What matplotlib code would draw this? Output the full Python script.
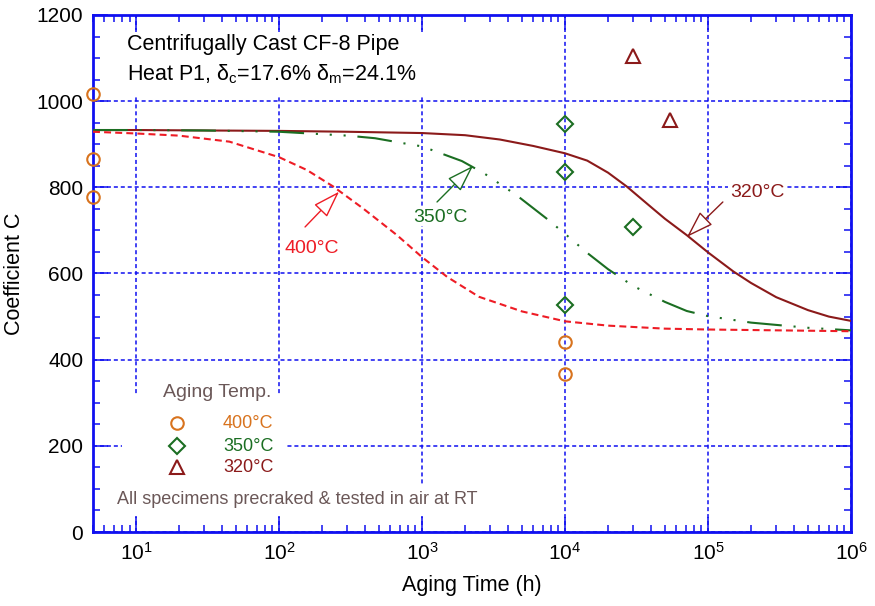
import matplotlib
matplotlib.use('Agg')
import matplotlib.pyplot as plt
from matplotlib.ticker import MultipleLocator, LogLocator, NullFormatter
from matplotlib.patches import Rectangle

plt.rcParams['font.family'] = ['Liberation Sans', 'DejaVu Sans']
plt.rcParams['mathtext.fontset'] = 'custom'
plt.rcParams['mathtext.rm'] = 'Liberation Sans'
plt.rcParams['mathtext.it'] = 'Liberation Sans:italic'
plt.rcParams['lines.scale_dashes'] = False

# ---------------- data ----------------
t_320 = [5, 10, 30, 100, 300, 1e3, 2e3, 3.5e3, 6e3, 1e4, 1.43e4, 2e4, 2.7e4,
         4.1e4, 5e4, 7.1e4, 1e5, 1.5e5, 2e5, 3e5, 5e5, 7e5, 1e6]
C_320 = [933, 933, 932, 931, 929, 926, 921, 911, 896, 879, 862, 834, 802,
         751, 727, 689, 649, 605, 578, 545, 515, 500, 490]

t_350 = [5, 10, 30, 100, 300, 469, 781, 1e3, 1.9e3, 2.73e3, 4.57e3, 7.4e3,
         1e4, 1.44e4, 2e4, 3e4, 5e4, 7.1e4, 1e5, 2e5, 5e5, 1e6]
C_350 = [933, 933, 932, 929, 920, 914, 901, 895, 861, 832, 782, 728,
         692, 647, 610, 571, 534, 513, 501, 486, 474, 468]

t_400 = [5, 10, 20, 45, 100, 157, 239, 387, 668, 1e3, 1.5e3, 2.5e3, 5e3,
         1e4, 2e4, 5e4, 1e5, 1e6]
C_400 = [929, 925, 920, 906, 870, 840, 802, 751, 689, 638, 592, 546, 512,
         489, 479, 472, 470, 466]

pts400_t = [5, 5, 5, 1e4, 1e4]
pts400_C = [1016, 866, 778, 442, 367]
pts350_t = [1e4, 1e4, 3e4, 1e4]
pts350_C = [946, 836, 708, 526]
pts320_t = [3e4, 5.4e4]
pts320_C = [1104, 957]

legend_labels = ['400°C', '350°C', '320°C']

# ---------------- style ----------------
BLUE = '#1010F0'
ORANGE = '#D8731E'
GREEN = '#1B6E22'
DARKRED = '#8B1A1A'
RED = '#EE1C25'
GRAY = '#6B5858'

fig = plt.figure(figsize=(8.75, 6.06), dpi=100)
ax = fig.add_axes([0.10629, 0.12211, 0.86629, 0.85314])
ax.set_xscale('log')
ax.set_xlim(5, 1e6)
ax.set_ylim(0, 1200)

ax.set_axisbelow(True)
ax.grid(True, which='major', color=BLUE, linestyle=(0, (2.9, 2.1)), linewidth=1.1)
ax.grid(False, which='minor')

ax.yaxis.set_major_locator(MultipleLocator(200))
ax.yaxis.set_minor_locator(MultipleLocator(50))
ax.xaxis.set_major_locator(LogLocator(base=10, numticks=20))
ax.xaxis.set_minor_locator(LogLocator(base=10, subs=range(2, 10), numticks=20))
ax.xaxis.set_minor_formatter(NullFormatter())

ax.tick_params(which='both', direction='in', top=True, right=True,
               color=BLUE, width=1.1, labelsize=15, labelcolor='black')
ax.tick_params(which='major', length=10.5, pad=7)
ax.tick_params(which='minor', length=5)
for s in ax.spines.values():
    s.set_color(BLUE)
    s.set_linewidth(2.0)

ax.set_xlabel('Aging Time (h)', fontsize=15.5, labelpad=8)
ax.set_ylabel('Coefficient C', fontsize=15.5, labelpad=8)

# white areas behind the text blocks (grid is interrupted there)
for (x0, y0, w, h) in [(0.0224, 0.842, 0.47, 0.125),
                       (0.0383, 0.087, 0.2177, 0.176),
                       (0.0224, 0.031, 0.495, 0.060)]:
    ax.add_patch(Rectangle((x0, y0), w, h, transform=ax.transAxes,
                           facecolor='white', edgecolor='none', zorder=1))

# curves
ax.plot(t_320, C_320, color=DARKRED, lw=1.5, zorder=3)
ax.plot(t_350, C_350, color=GREEN, lw=1.5, zorder=3,
        linestyle=(0, (25, 8.5, 1.5, 8.5, 1.5, 8.5, 1.5, 8.5)))
ax.plot(t_400, C_400, color=RED, lw=1.5, zorder=3, linestyle=(0, (5, 3)))

# data points
mk = dict(mew=1.5, mfc='none', linestyle='none', zorder=4, clip_on=False)
ax.plot(pts400_t, pts400_C, marker='o', mec=ORANGE, ms=9, **mk)
ax.plot(pts350_t, pts350_C, marker='D', mec=GREEN, ms=8.3, **mk)
ax.plot(pts320_t, pts320_C, marker='^', mec=DARKRED, ms=10, **mk)

# title text
ax.text(0.0449, 0.942, 'Centrifugally Cast CF-8 Pipe', transform=ax.transAxes,
        fontsize=15.5, va='center', ha='left', color='black', zorder=5)
ax.text(0.0449, 0.886, r'Heat P1, δ$_\mathrm{c}$=17.6% δ$_\mathrm{m}$=24.1%',
        transform=ax.transAxes, fontsize=15.5, va='center', ha='left',
        color='black', zorder=5)

# legend block
ax.text(0.0923, 0.2689, 'Aging Temp.', transform=ax.transAxes, fontsize=14,
        va='center', ha='left', color=GRAY, zorder=5)
leg_y = [0.2108, 0.1663, 0.1257]
leg_m = [('o', ORANGE, 9), ('D', GREEN, 8.3), ('^', DARKRED, 10)]
for yy, (m, c, s), lab in zip(leg_y, leg_m, legend_labels):
    ax.plot([0.1108], [yy], transform=ax.transAxes, marker=m, mec=c, mfc='none',
            ms=s, mew=1.5, linestyle='none', zorder=5, clip_on=False)
    ax.text(0.1715, yy, lab, transform=ax.transAxes, fontsize=13, va='center',
            ha='left', color=c, zorder=5)
ax.text(0.0317, 0.0638, 'All specimens precraked & tested in air at RT',
        transform=ax.transAxes, fontsize=13, va='center', ha='left',
        color=GRAY, zorder=5)

# curve annotations with open arrows
def arrow(tip, tail, color):
    ax.annotate('', xy=tip, xytext=tail,
                arrowprops=dict(arrowstyle='-|>,head_length=0.85,head_width=0.28',
                                mutation_scale=20, facecolor='white',
                                edgecolor=color, lw=1.0, shrinkA=0, shrinkB=0),
                zorder=5)

arrow((263, 790), (152, 708), RED)
ax.text(170, 659, '400°C', fontsize=14, color=RED, ha='center', va='center',
        zorder=5, bbox=dict(fc='white', ec='none', pad=0.5))
arrow((2275, 850), (1273, 766), GREEN)
ax.text(1337, 731, '350°C', fontsize=14, color=GREEN, ha='center', va='center',
        zorder=5, bbox=dict(fc='white', ec='none', pad=0.5))
arrow((7.13e4, 685), (1.27e5, 766), DARKRED)
ax.text(2.2e5, 789, '320°C', fontsize=14, color=DARKRED, ha='center',
        va='center', zorder=5, bbox=dict(fc='white', ec='none', pad=1.5))

fig.savefig('out.png', dpi=100)
